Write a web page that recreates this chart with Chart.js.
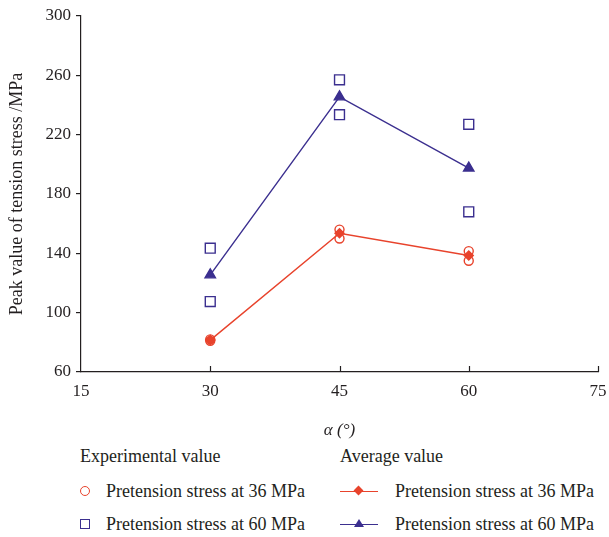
<!DOCTYPE html>
<html>
<head>
<meta charset="utf-8">
<script src="https://cdn.jsdelivr.net/npm/chart.js@4"></script>
<style>
  body { margin: 0; background: #fff; font-family: "Liberation Serif", "DejaVu Serif", serif; color: #231f20; }
  #wrap { position: relative; width: 609px; height: 537px; }
  #chart { position: absolute; left: 0; top: 0; }
  .lg { position: absolute; font-size: 18px; white-space: nowrap; line-height: 20px; }
  .mk { position: absolute; box-sizing: border-box; }
</style>
</head>
<body>
<div id="wrap">
  <canvas id="chart" width="609" height="445"></canvas>
  <div class="lg" style="left:80px;top:446px">Experimental value</div>
  <div class="lg" style="left:340px;top:446px">Average value</div>
  <div class="mk" style="left:80px;top:486px;width:10px;height:10px;border:1.5px solid #e8432c;border-radius:50%"></div>
  <div class="lg" style="left:106px;top:481px">Pretension stress at 36 MPa</div>
  <div class="mk" style="left:80px;top:519px;width:10px;height:10px;border:1.5px solid #3b2f8f"></div>
  <div class="lg" style="left:106px;top:514px">Pretension stress at 60 MPa</div>
  <div class="mk" style="left:340px;top:491px;width:38px;height:0;border-top:1.5px solid #e8432c"></div>
  <div class="mk" style="left:355px;top:487px;width:7px;height:7px;background:#e8432c;transform:rotate(45deg)"></div>
  <div class="lg" style="left:395px;top:481px">Pretension stress at 36 MPa</div>
  <div class="mk" style="left:340px;top:524px;width:38px;height:0;border-top:1.5px solid #3b2f8f"></div>
  <div class="mk" style="left:354px;top:519px;width:0;height:0;border-left:5px solid transparent;border-right:5px solid transparent;border-bottom:8px solid #3b2f8f"></div>
  <div class="lg" style="left:395px;top:514px">Pretension stress at 60 MPa</div>
</div>
<script>
const RED = "#e8432c";
const BLUE = "#3b2f8f";

const angles = [30, 45, 60];
const expAngles = [30, 30, 45, 45, 60, 60];
const exp36 = [81, 82, 156, 150, 141.5, 135];
const exp60 = [143.5, 107.5, 257, 233.5, 227, 168];
const avg36 = [81.5, 153.5, 138.5];
const avg60 = [125.5, 245.5, 197.5];

const xTicks = [15, 30, 45, 60, 75];
const yTicks = [60, 100, 140, 180, 220, 260, 300];

const pts = (xs, ys) => xs.map((x, i) => ({ x: x, y: ys[i] }));

// x ticks point up into the plot, like the original
const innerTicks = {
  id: "innerTicks",
  afterDraw(chart) {
    const ctx = chart.ctx;
    const xs = chart.scales.x;
    const bottom = chart.chartArea.bottom;
    ctx.save();
    ctx.strokeStyle = "#231f20";
    ctx.lineWidth = 1.2;
    xTicks.slice(1).forEach((v) => {
      const px = Math.round(xs.getPixelForValue(v)) + 0.5;
      ctx.beginPath();
      ctx.moveTo(px, bottom);
      ctx.lineTo(px, bottom - 6);
      ctx.stroke();
    });
    ctx.restore();
  },
};

Chart.defaults.font.family = '"Liberation Serif", "DejaVu Serif", serif';
Chart.defaults.color = "#231f20";

new Chart(document.getElementById("chart"), {
  type: "scatter",
  data: {
    datasets: [
      {
        label: "Exp 36",
        data: pts(expAngles, exp36),
        pointStyle: "circle",
        pointRadius: 4.5,
        borderColor: RED,
        backgroundColor: "rgba(0,0,0,0)",
        borderWidth: 1.4,
      },
      {
        label: "Exp 60",
        data: pts(expAngles, exp60),
        pointStyle: "rect",
        pointRadius: 7,
        borderColor: BLUE,
        backgroundColor: "rgba(0,0,0,0)",
        borderWidth: 1.4,
      },
      {
        label: "Avg 36",
        data: pts(angles, avg36),
        showLine: true,
        pointStyle: "rectRot",
        pointRadius: 4.5,
        borderColor: RED,
        backgroundColor: RED,
        borderWidth: 1.4,
      },
      {
        label: "Avg 60",
        data: pts(angles, avg60),
        showLine: true,
        pointStyle: "triangle",
        pointRadius: 6,
        borderColor: BLUE,
        backgroundColor: BLUE,
        borderWidth: 1.4,
      },
    ],
  },
  options: {
    responsive: false,
    animation: false,
    layout: { padding: { left: 0, right: 11, top: 16, bottom: 0 } },
    plugins: { legend: { display: false }, tooltip: { enabled: false } },
    scales: {
      x: {
        type: "linear",
        min: 15,
        max: 75,
        afterBuildTicks: (s) => { s.ticks = xTicks.map((v) => ({ value: v })); },
        afterFit: (s) => { s.height = 73; s.paddingLeft = 0; s.paddingRight = 0; },
        grid: { display: false, drawTicks: false },
        border: { color: "#231f20", width: 1.2 },
        ticks: { padding: 9, font: { size: 17 }, color: "#231f20" },
        title: {
          display: true,
          text: "α (°)",
          font: { size: 17, style: "italic" },
          padding: { top: 12 },
          color: "#231f20",
        },
      },
      y: {
        min: 60,
        max: 300,
        afterBuildTicks: (s) => { s.ticks = yTicks.map((v) => ({ value: v })); },
        afterFit: (s) => { s.width = 81; },
        grid: { drawOnChartArea: false, tickLength: 5, color: "#231f20", lineWidth: 1.2 },
        border: { color: "#231f20", width: 1.2 },
        ticks: { padding: 5, font: { size: 17 }, color: "#231f20" },
        title: {
          display: true,
          text: "Peak value of tension stress /MPa",
          font: { size: 18 },
          padding: { top: 6, bottom: 0 },
          color: "#231f20",
        },
      },
    },
  },
  plugins: [innerTicks],
});
</script>
</body>
</html>
